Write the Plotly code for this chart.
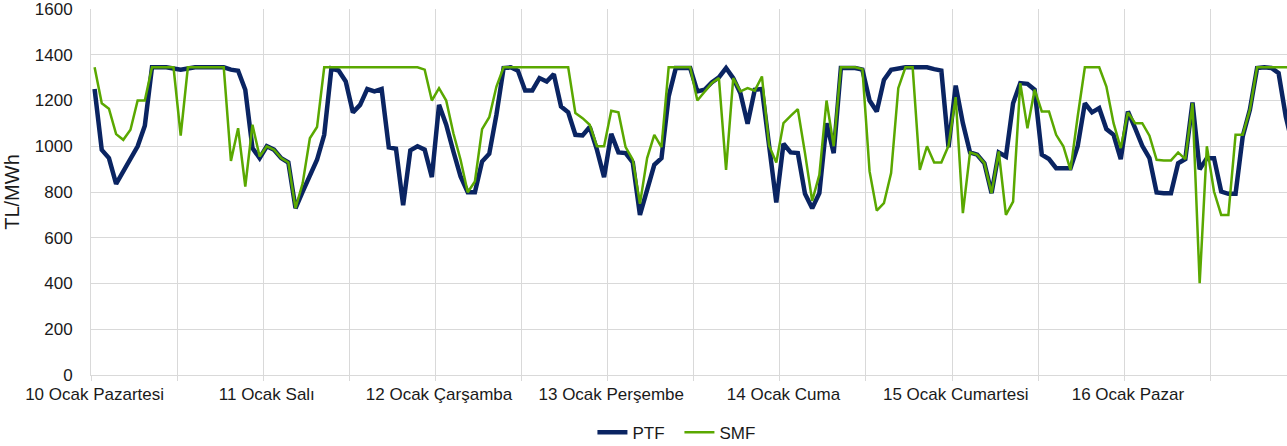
import plotly.graph_objects as go

day_labels = ["10 Ocak Pazartesi", "11 Ocak Salı", "12 Ocak Çarşamba", "13 Ocak Perşembe",
              "14 Ocak Cuma", "15 Ocak Cumartesi", "16 Ocak Pazar"]

ptf = [1250, 984, 948, 836, 890, 944, 1000, 1090, 1345, 1345, 1345, 1340, 1335, 1340, 1345, 1345,
       1345, 1345, 1345, 1335, 1330, 1247, 992, 948,
       1000, 985, 948, 929, 729, 802, 868, 941, 1050, 1340, 1331, 1283, 1148, 1181, 1250, 1240,
       1250, 995, 989, 742, 982, 1000, 985, 865,
       1181, 1094, 977, 868, 799, 799, 933, 967, 1138, 1342, 1345, 1330, 1244, 1244, 1298, 1283,
       1315, 1174, 1148, 1050, 1047, 1084, 985, 865,
       1054, 973, 970, 929, 700, 802, 919, 948, 1218, 1342, 1342, 1342, 1240, 1247, 1279, 1301,
       1342, 1298, 1232, 1098, 1247, 1250, 1002, 754,
       1011, 973, 970, 792, 729, 795, 1101, 970, 1342, 1342, 1342, 1335, 1200, 1152, 1290, 1334,
       1342, 1345, 1345, 1345, 1345, 1337, 1331, 996,
       1265, 1101, 973, 963, 926, 795, 973, 955, 1188, 1276, 1273, 1247, 963, 944, 904, 904,
       904, 1000, 1188, 1148, 1167, 1075, 1050, 944,
       1152, 1079, 1002, 948, 798, 795, 795, 926, 944, 1191, 899, 948, 948, 802, 792, 792,
       1043, 1160, 1342, 1345, 1342, 1320, 1130, 1000]

smf = [1345, 1188, 1164, 1053, 1028, 1072, 1200, 1200, 1345, 1345, 1345, 1345, 1047, 1345, 1345, 1345,
       1345, 1345, 1345, 936, 1079, 824, 1094, 955,
       1000, 985, 948, 929, 729, 839, 1035, 1084, 1345, 1345, 1345, 1345, 1345, 1345, 1345, 1345,
       1345, 1345, 1345, 1345, 1345, 1345, 1335, 1200,
       1254, 1200, 1057, 941, 799, 846, 1075, 1127, 1261, 1345, 1345, 1345, 1345, 1345, 1345, 1345,
       1345, 1345, 1345, 1145, 1123, 1094, 1000, 1000,
       1155, 1148, 996, 941, 748, 948, 1050, 996, 1345, 1345, 1345, 1345, 1200, 1240, 1276, 1298,
       897, 1298, 1240, 1254, 1243, 1305, 1002, 929,
       1101, 1133, 1162, 970, 761, 875, 1200, 1000, 1345, 1345, 1345, 1337, 890, 719, 751, 883,
       1254, 1345, 1345, 897, 1000, 929, 929, 1002,
       1215, 708, 973, 963, 926, 795, 977, 700, 758, 1276, 1079, 1247, 1152, 1152, 1050, 1000,
       897, 1130, 1345, 1345, 1345, 1261, 1101, 992,
       1148, 1101, 1101, 1046, 941, 938, 938, 973, 944, 1188, 401, 1000, 802, 700, 700, 1050,
       1050, 1160, 1345, 1345, 1345, 1345, 1345, 1345]

hours = list(range(len(ptf)))
FONT = "Liberation Sans, Arial, sans-serif"
GRID = "#d9d9d9"

fig = go.Figure()
fig.add_trace(go.Scatter(x=hours, y=ptf, name="PTF", mode="lines",
                         line=dict(color="#0a2462", width=4.5)))
fig.add_trace(go.Scatter(x=hours, y=smf, name="SMF", mode="lines",
                         line=dict(color="#5aa800", width=2.5)))

fig.update_layout(
    width=1287, height=446,
    margin=dict(l=91, r=0, t=9, b=71, autoexpand=False),
    paper_bgcolor="white", plot_bgcolor="white",
    font=dict(family=FONT, size=17, color="#1a1a1a"),
    showlegend=True,
    legend=dict(orientation="h", x=0.492, xanchor="center", yref="container", y=0.03,
                yanchor="middle", font=dict(size=17), tracegroupgap=0,
                entrywidth=42, entrywidthmode="pixels"),
    xaxis=dict(range=[-0.5, 166.17], tickmode="array", automargin=False,
               tickvals=[24 * d for d in range(len(day_labels))], ticktext=day_labels,
               showgrid=False, ticks="", showline=True, linecolor=GRID, linewidth=1,
               zeroline=False, tickfont=dict(size=17), ticklabelstandoff=4,
               ticklabeloverflow="allow",
               minor=dict(tick0=-0.5, dtick=12, showgrid=True, gridcolor=GRID, gridwidth=1,
                          ticks="outside", ticklen=5, tickcolor=GRID)),
    yaxis=dict(range=[0, 1600], dtick=200, showgrid=True, gridcolor=GRID, gridwidth=1,
               showline=True, linecolor=GRID, linewidth=1, zeroline=False, ticks="",
               automargin=False, ticklabelstandoff=14, tickfont=dict(size=17),
               ticklabeloverflow="allow",
               title=dict(text="TL/MWh", font=dict(size=20), standoff=9)),
)

fig.write_html("out.html", config={"displayModeBar": False},
               post_script="document.body.style.margin='0';document.body.style.overflow='hidden';")
